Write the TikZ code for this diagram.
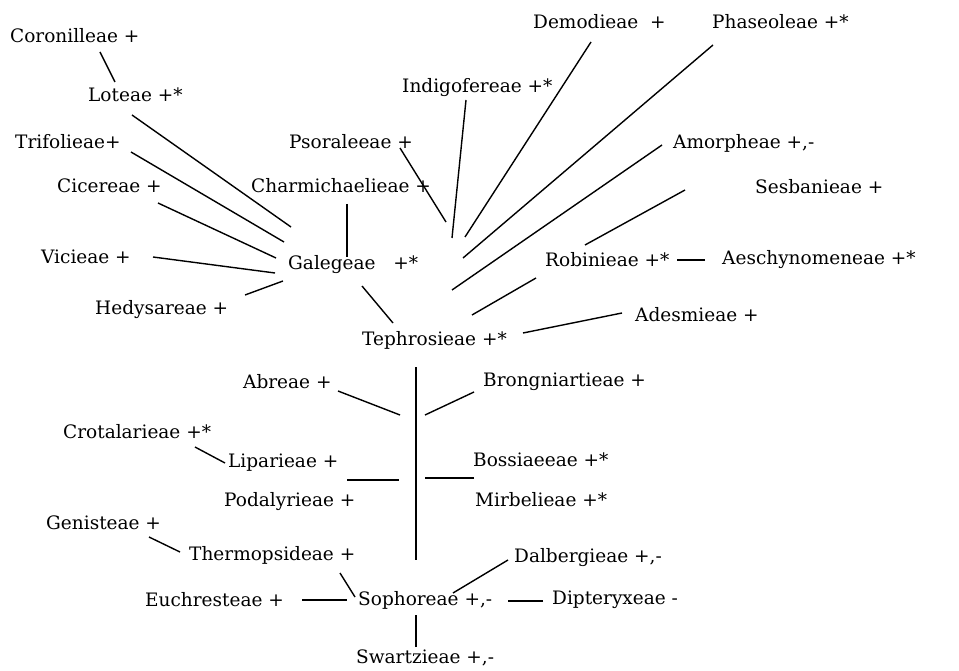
\documentclass[tikz,border=0pt]{standalone}
\usepackage{fontspec}
\setmainfont{DejaVu Serif}
\begin{document}
\begin{tikzpicture}[x=1pt,y=-1pt,
  every node/.style={anchor=west,inner sep=0pt,font=\fontsize{18.5}{22}\selectfont},
  link/.style={line width=1.4pt}]
  \useasboundingbox (0,0) rectangle (959,671);
  % upper part
  \node (cor) at (10,36) {Coronilleae +};
  \node (lot) at (88,95) {Loteae +*};
  \node (tri) at (15,142) {Trifolieae+};
  \node (cic) at (57,186) {Cicereae +};
  \node (vic) at (41,257) {Vicieae +};
  \node (hed) at (95,310) {Hedysareae +};
  \node (gal) at (288,265) {Galegeae\ \ \ +*};
  \node (psor) at (289,142) {Psoraleeae +};
  \node (cha) at (251,186) {Charmichaelieae +};
  \node (ind) at (402,88) {Indigofereae +*};
  \node (dem) at (533,22) {Demodieae\ \ +};
  \node (pha) at (712,22) {Phaseoleae +*};
  \node (amo) at (673,143) {Amorpheae +,-};
  \node (ses) at (755,187) {Sesbanieae +};
  \node (rob) at (545,260) {Robinieae +*};
  \node (aes) at (722,260) {Aeschynomeneae +*};
  \node (ade) at (635,315) {Adesmieae +};
  \node (tep) at (362,340) {Tephrosieae +*};
  % lower part
  \node (abr) at (243,382) {Abreae +};
  \node (bro) at (483,382) {Brongniartieae +};
  \node (cro) at (63,432) {Crotalarieae +*};
  \node (lip) at (228,463) {Liparieae +};
  \node (bos) at (473,460) {Bossiaeeae +*};
  \node (pod) at (224,502) {Podalyrieae +};
  \node (mir) at (475,500) {Mirbelieae +*};
  \node (gen) at (46,523) {Genisteae +};
  \node (the) at (189,555) {Thermopsideae +};
  \node (dal) at (514,558) {Dalbergieae +,-};
  \node (euc) at (145,600) {Euchresteae +};
  \node (sop) at (358,600) {Sophoreae +,-};
  \node (dip) at (552,600) {Dipteryxeae -};
  \node (swa) at (356,658) {Swartzieae +,-};
  % free ends of the links (none of them touches a label)
  \foreach \t/\xa/\ya/\xb/\yb in {cor/100/52/115/82, lot/132/115/291/227,
      tri/131/152/284/242, cic/158/203/276/258, vic/153/257/275/273,
      hed/245/295/283/281, cha/347/204/347/257, psor/400/148/446/222,
      gal/362/286/393/323, ind/466/100/452/238, dem/591/42/465/237,
      pha/713/45/463/258, amo/662/145/452/290, ses/685/190/585/245,
      aes/705/260/677/260, rob/536/278/472/315, ade/622/313/523/333,
      tep/416/367/416/560, abr/338/391/400/415, cro/195/447/225/463,
      lip/347/480/399/480, bro/474/392/425/415, bos/474/478/425/478,
      gen/149/537/180/552, the/340/573/355/597, euc/302/600/347/600,
      dal/508/560/453/593, dip/543/601/508/601, swa/416/647/416/615}
    {\coordinate (\t-a) at (\xa,\ya);
     \coordinate (\t-b) at (\xb,\yb);}
  \foreach \t in {cor,lot,tri,cic,vic,hed,cha,psor,gal,ind,dem,pha,amo,ses,
      aes,rob,ade,tep,abr,cro,lip,bro,bos,gen,the,euc,dal,dip,swa}
    \draw[link] (\t-a) -- (\t-b);
\end{tikzpicture}
\end{document}
